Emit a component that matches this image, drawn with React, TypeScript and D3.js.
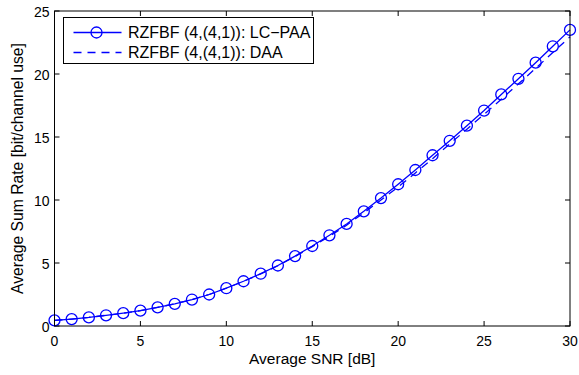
import React, { useRef, useEffect } from "react";
import * as d3 from "d3";

const snr = d3.range(0, 31);
const lcPaa = [0.45, 0.55, 0.68, 0.85, 1.02, 1.22, 1.48, 1.76, 2.1, 2.5, 3.0, 3.55, 4.15, 4.8, 5.55, 6.35, 7.2, 8.1, 9.1, 10.15, 11.25, 12.38, 13.55, 14.7, 15.9, 17.1, 18.38, 19.62, 20.9, 22.2, 23.5];
const daa = [0.45, 0.55, 0.68, 0.85, 1.02, 1.22, 1.48, 1.76, 2.1, 2.5, 3.0, 3.55, 4.13, 4.78, 5.52, 6.3, 7.12, 8.0, 8.98, 10.0, 11.03, 12.15, 13.28, 14.45, 15.62, 16.8, 18.0, 19.22, 20.45, 21.7, 22.95];
const xTicks = [0, 5, 10, 15, 20, 25, 30];
const yTicks = [0, 5, 10, 15, 20, 25];
const legendLabels = ["RZFBF (4,(4,1)): LC\u2212PAA", "RZFBF (4,(4,1)): DAA"];

function App() {
  const svgRef = useRef<SVGSVGElement>(null);

  useEffect(() => {
    const svg = d3.select(svgRef.current);
    svg.selectAll("*").remove();

    const margin = { top: 11, right: 9, bottom: 49, left: 54.5 };
    const width = 579 - margin.left - margin.right;
    const height = 375 - margin.top - margin.bottom;
    const font = "Liberation Sans, Arial, sans-serif";
    const blue = "#0000ff";

    const x = d3.scaleLinear().domain([0, 30]).range([0, width]);
    const y = d3.scaleLinear().domain([0, 25]).range([height, 0]);

    svg.append("rect").attr("width", 579).attr("height", 375).attr("fill", "#fff");

    const g = svg.append("g").attr("transform", `translate(${margin.left},${margin.top})`);

    // ticks, inward on all four sides
    const tl = 5;
    xTicks.forEach((t) => {
      g.append("line").attr("x1", x(t)).attr("x2", x(t)).attr("y1", height).attr("y2", height - tl).attr("stroke", "#000");
      g.append("line").attr("x1", x(t)).attr("x2", x(t)).attr("y1", 0).attr("y2", tl).attr("stroke", "#000");
      g.append("text").attr("x", x(t)).attr("y", height + 20).attr("text-anchor", "middle")
        .attr("font-family", font).attr("font-size", 14).text(t);
    });
    yTicks.forEach((t) => {
      g.append("line").attr("x1", 0).attr("x2", tl).attr("y1", y(t)).attr("y2", y(t)).attr("stroke", "#000");
      g.append("line").attr("x1", width).attr("x2", width - tl).attr("y1", y(t)).attr("y2", y(t)).attr("stroke", "#000");
      g.append("text").attr("x", -5).attr("y", y(t) + 5.5).attr("text-anchor", "end")
        .attr("font-family", font).attr("font-size", 14).text(t);
    });

    const line = d3.line<number>().x((d, i) => x(snr[i])).y((d) => y(d));

    g.append("path").datum(daa).attr("d", line).attr("fill", "none")
      .attr("stroke", blue).attr("stroke-width", 1.3).attr("stroke-dasharray", "8,6");

    g.append("path").datum(lcPaa).attr("d", line).attr("fill", "none")
      .attr("stroke", blue).attr("stroke-width", 1.3);

    g.selectAll(".pt").data(lcPaa).enter().append("circle")
      .attr("cx", (d, i) => x(snr[i])).attr("cy", (d) => y(d)).attr("r", 5.5)
      .attr("fill", "none").attr("stroke", blue).attr("stroke-width", 1.3);

    // axes box
    g.append("rect").attr("width", width).attr("height", height)
      .attr("fill", "none").attr("stroke", "#000").attr("stroke-width", 1);

    // legend
    const lg = svg.append("g").attr("transform", "translate(63.5,17.5)");
    lg.append("rect").attr("width", 250).attr("height", 46).attr("fill", "#fff").attr("stroke", "#000");
    lg.append("line").attr("x1", 10).attr("x2", 58).attr("y1", 15).attr("y2", 15).attr("stroke", blue).attr("stroke-width", 1.3);
    lg.append("circle").attr("cx", 33).attr("cy", 15).attr("r", 5.5).attr("fill", "none").attr("stroke", blue).attr("stroke-width", 1.3);
    lg.append("line").attr("x1", 10).attr("x2", 58).attr("y1", 35).attr("y2", 35).attr("stroke", blue)
      .attr("stroke-width", 1.3).attr("stroke-dasharray", "8,6");
    legendLabels.forEach((l, i) => {
      lg.append("text").attr("x", 64.5).attr("y", 20.5 + i * 20).attr("font-family", font)
        .attr("font-size", 16).text(l);
    });

    // axis labels
    svg.append("text").attr("x", margin.left + width / 2).attr("y", 364).attr("text-anchor", "middle")
      .attr("font-family", font).attr("font-size", 15.5).text("Average SNR [dB]");
    svg.append("text").attr("transform", `translate(23,${margin.top + height / 2}) rotate(-90)`)
      .attr("text-anchor", "middle").attr("font-family", font).attr("font-size", 15.7)
      .text("Average Sum Rate [bit/channel use]");
  }, []);

  return <svg ref={svgRef} width={579} height={375} style={{ position: "absolute", left: 0, top: 0 }} />;
}

export default App;
